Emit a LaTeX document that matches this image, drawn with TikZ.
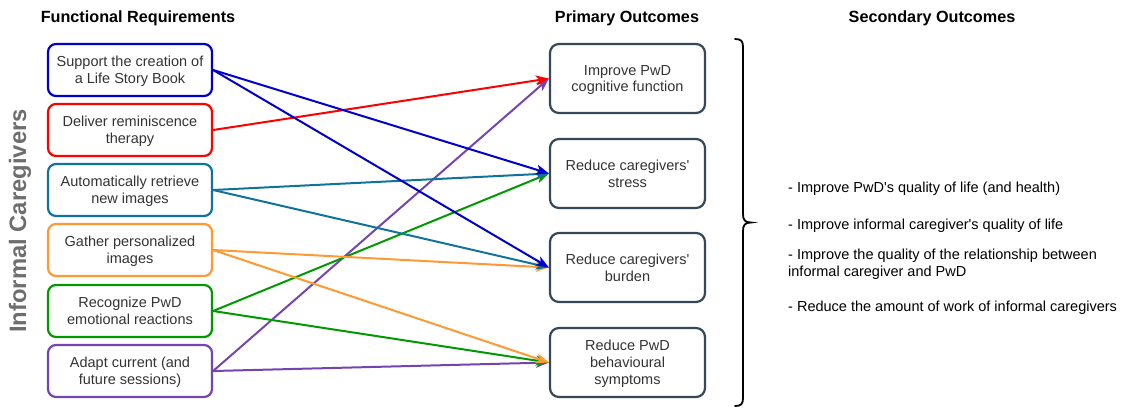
\documentclass[tikz,border=0pt]{standalone}
\usepackage{fontspec}
\setmainfont{Liberation Sans}
\usetikzlibrary{arrows.meta}
\definecolor{cblue}{HTML}{0000CC}
\definecolor{cred}{HTML}{FF0000}
\definecolor{cteal}{HTML}{10739E}
\definecolor{corange}{HTML}{FF9933}
\definecolor{cgreen}{HTML}{009900}
\definecolor{cpurple}{HTML}{7445B0}
\definecolor{outline}{HTML}{36475A}
\definecolor{bodytext}{HTML}{333333}
\definecolor{sidetext}{HTML}{6E6E6E}
\newcommand{\apos}{\textquotesingle}
\tikzset{
  reqbox/.style={draw, line width=2.2pt, rounded corners=8pt, fill=white,
    minimum width=164pt, minimum height=52pt, align=center, text=bodytext,
    font=\fontsize{14.5}{16.8}\selectfont, inner sep=0pt, text depth=0pt},
  outbox/.style={draw=outline, line width=2.2pt, rounded corners=9pt, fill=white,
    minimum width=155pt, minimum height=69pt, align=center, text=bodytext,
    font=\fontsize{14.5}{16.8}\selectfont, inner sep=0pt, text depth=0pt},
  header/.style={font=\fontsize{16.2}{19}\selectfont\bfseries},
  secitem/.style={anchor=west, align=left, inner sep=0pt,
    font=\fontsize{14.5}{16.5}\selectfont},
  link/.style={line width=2pt, -{Stealth[length=13pt,width=10pt,inset=3.5pt]}},
}
\begin{document}
\begin{tikzpicture}[x=1pt,y=-1pt]
\useasboundingbox (0,0) rectangle (1125,408);

% column headers
\node[header] (hreq) at (138,18) {Functional Requirements};
\node[header] (hpri) at (627,18) {Primary Outcomes};
\node[header] (hsec) at (932,18) {Secondary Outcomes};

% actor label
\node[rotate=90, text=sidetext, font=\fontsize{23.8}{26}\selectfont\bfseries] (actor) at (20,221) {Informal Caregivers};

% functional requirements
\node[reqbox, draw=cblue]   (r1) at (130,70)  {Support the creation of\\a Life Story Book};
\node[reqbox, draw=cred]    (r2) at (130,130) {Deliver reminiscence\\therapy};
\node[reqbox, draw=cteal]   (r3) at (130,190) {Automatically retrieve\\new images};
\node[reqbox, draw=corange] (r4) at (130,250) {Gather personalized\\images};
\node[reqbox, draw=cgreen]  (r5) at (130,311) {Recognize PwD\\emotional reactions};
\node[reqbox, draw=cpurple] (r6) at (130,371) {Adapt current (and\\future sessions)};

% primary outcomes
\node[outbox] (o1) at (627.5,78.5)  {Improve PwD\\cognitive function};
\node[outbox] (o2) at (627.5,173.5) {Reduce caregivers\apos\\stress};
\node[outbox] (o3) at (627.5,267.5) {Reduce caregivers\apos\\burden};
\node[outbox] (o4) at (627.5,362.5) {Reduce PwD\\behavioural\\symptoms};

% links from requirements to outcomes
\draw[link, cpurple] (r6.east) -- (o1.west);
\draw[link, cpurple] (r6.east) -- (o4.west);
\draw[link, cgreen]  (r5.east) -- (o2.west);
\draw[link, cgreen]  (r5.east) -- (o4.west);
\draw[link, corange] (r4.east) -- (o3.west);
\draw[link, corange] (r4.east) -- (o4.west);
\draw[link, cteal]   (r3.east) -- (o2.west);
\draw[link, cteal]   (r3.east) -- (o3.west);
\draw[link, cred]    (r2.east) -- (o1.west);
\draw[link, cblue]   (r1.east) -- (o2.west);
\draw[link, cblue]   (r1.east) -- (o3.west);

% brace grouping the primary outcomes
\coordinate (btop) at (735,39);
\coordinate (bbot) at (735,406);
\coordinate (btip) at (751,222.5);
\draw[line width=1.8pt, line cap=round]
  (btop) .. controls (741,39) and (743,41) .. (743,47)
  -- (743,214) .. controls (743,220) and (745,222.5) .. (btip)
  .. controls (745,222.5) and (743,225) .. (743,231)
  -- (743,398) .. controls (743,404) and (741,406) .. (bbot);

% secondary outcomes
\node[secitem] (s1) at (788,189) {- Improve PwD\apos s quality of life (and health)};
\node[secitem] (s2) at (788,226) {- Improve informal caregiver\apos s quality of life};
\node[secitem] (s3) at (788,264) {- Improve the quality of the relationship between\\informal caregiver and PwD};
\node[secitem] (s4) at (788,308) {- Reduce the amount of work of informal caregivers};
\end{tikzpicture}
\end{document}
